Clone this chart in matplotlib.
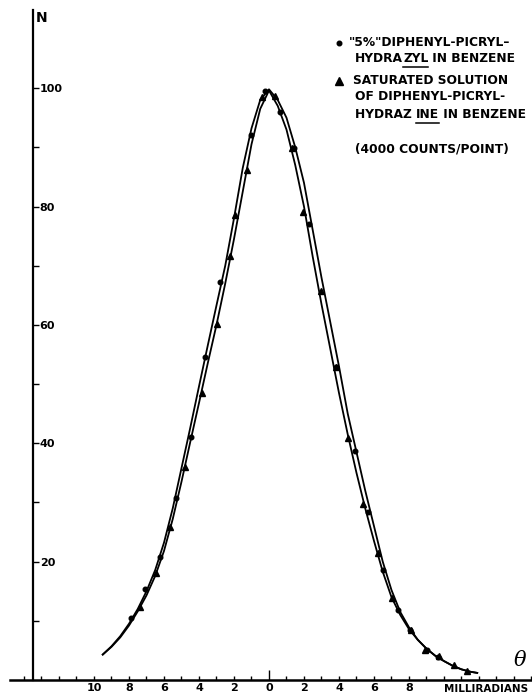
import matplotlib
matplotlib.use("Agg")
import matplotlib.pyplot as plt
from matplotlib.lines import Line2D
from matplotlib.ticker import MultipleLocator, FixedLocator

# curve through the hydrazyl (dot) points - slightly the wider one
dot_curve_theta = [-9.5, -9.0, -8.5, -8.0, -7.5, -7.0, -6.5, -6.0, -5.5, -5.0, -4.5, -4.0,
                   -3.5, -3.0, -2.5, -2.0, -1.5, -1.0, -0.5, 0.0, 0.5, 1.0, 1.5, 2.0, 2.5,
                   3.0, 3.5, 4.0, 4.5, 5.0, 5.5, 6.0, 6.5, 7.0, 7.5, 8.0, 8.5, 9.0, 9.5,
                   10.0, 10.5, 11.0, 11.5, 11.9]
dot_curve_n = [4.3, 5.7, 7.4, 9.5, 12.0, 15.0, 18.6, 23.2, 29.0, 35.8, 42.6, 49.6,
               56.5, 63.3, 70.0, 78.0, 86.5, 93.2, 98.0, 99.8, 98.0, 95.0, 90.0, 84.0, 76.0,
               68.0, 60.5, 53.0, 45.0, 38.5, 32.0, 26.0, 20.0, 15.2, 11.5, 8.9, 6.8, 5.3, 4.1,
               3.2, 2.4, 1.8, 1.4, 1.2]

# curve through the hydrazine (triangle) points
tri_curve_theta = [-9.5, -9.0, -8.5, -8.0, -7.5, -7.0, -6.5, -6.0, -5.5, -5.0, -4.5, -4.0,
                   -3.5, -3.0, -2.5, -2.0, -1.5, -1.0, -0.5, 0.0, 0.5, 1.0, 1.5, 2.0, 2.5,
                   3.0, 3.5, 4.0, 4.5, 5.0, 5.5, 6.0, 6.5, 7.0, 7.5, 8.0, 8.5, 9.0, 9.5,
                   10.0, 10.5, 11.0, 11.5, 11.9]
tri_curve_n = [4.3, 5.6, 7.2, 9.2, 11.6, 14.3, 17.6, 21.8, 27.2, 33.5, 40.2, 46.8,
               53.5, 60.0, 67.0, 74.5, 82.5, 90.5, 96.5, 99.6, 97.0, 93.0, 87.0, 80.0, 71.5,
               63.5, 56.0, 48.5, 41.5, 35.0, 29.0, 23.5, 18.3, 14.0, 11.0, 8.6, 6.8, 5.3, 4.1,
               3.2, 2.4, 1.8, 1.4, 1.2]

dots_theta = [-7.89, -7.09, -6.23, -5.31, -4.46, -3.66, -2.8, -1.03, -0.23, 0.63, 1.43,
              2.29, 3.83, 4.91, 5.66, 6.51, 7.37, 8.06, 9.03, 9.66]
dots_n = [10.5, 15.4, 20.8, 30.7, 41.0, 54.6, 67.2, 92.0, 99.5, 96.0, 89.9,
          77.0, 52.9, 38.7, 28.4, 18.6, 11.8, 8.4, 5.1, 3.9]

tri_theta = [-7.37, -6.46, -5.66, -4.8, -3.83, -2.97, -2.23, -1.94, -1.26, -0.4, 0.34,
             1.31, 1.94, 2.97, 3.83, 4.51, 5.37, 6.23, 7.03, 8.11, 8.91, 9.71, 10.57, 11.31]
tri_n = [12.3, 18.0, 25.8, 36.0, 48.5, 60.1, 71.6, 78.5, 86.1, 98.5, 98.6,
         89.9, 79.0, 65.7, 52.9, 40.9, 29.7, 21.4, 13.9, 8.4, 5.1, 4.0, 2.5, 1.6]

xtick_pos = [-10, -8, -6, -4, -2, 0, 2, 4, 6, 8]
xtick_lab = ["10", "8", "6", "4", "2", "0", "2", "4", "6", "8"]
ytick_pos = [20, 40, 60, 80, 100]
ytick_minor = [10, 30, 50, 70, 90]

W, H = 532, 696
fig = plt.figure(figsize=(W / 100, H / 100), dpi=100)
ax = fig.add_axes([10 / W, 16 / H, 522 / W, 670 / H])

ax.plot(dot_curve_theta, dot_curve_n, color="black", lw=1.3)
ax.plot(tri_curve_theta, tri_curve_n, color="black", lw=1.3)
ax.plot(dots_theta, dots_n, "o", color="black", ms=3.3, ls="none")
ax.plot(tri_theta, tri_n, "^", color="black", ms=5, ls="none")

ax.set_xlim(-14.8, 15.03)
ax.set_ylim(0, 113.2)

for s in ["top", "right"]:
    ax.spines[s].set_visible(False)
ax.spines["left"].set_position(("data", -13.5))
ax.spines["left"].set_linewidth(1.6)
ax.spines["bottom"].set_linewidth(1.8)

lab_font = dict(family="DejaVu Sans", weight="bold", size=8)

ax.set_xticks(xtick_pos)
ax.set_xticklabels(xtick_lab, **lab_font)
ax.xaxis.set_minor_locator(MultipleLocator(1))
ax.tick_params(axis="x", which="both", direction="in", length=3, width=1, pad=2)
ax.xaxis.get_major_ticks()[5].tick1line.set_markersize(7)

ax.set_yticks(ytick_pos)
ax.set_yticklabels([str(v) for v in ytick_pos], **lab_font)
ax.yaxis.set_minor_locator(FixedLocator(ytick_minor))
ax.tick_params(axis="y", which="both", direction="in", length=4, width=1, pad=-5)
for t in ax.get_yticklabels():
    t.set_ha("left")

ax.text(-13.3, 111.8, "N", fontsize=10, fontweight="bold", family="DejaVu Sans",
        ha="left", va="center")
fig.text(520 / W, 1 - 660 / H, "θ", fontsize=15, style="italic", family="DejaVu Serif",
         ha="center", va="center")
fig.text(486 / W, 1 - 689 / H, "MILLIRADIANS", fontsize=7.5, fontweight="bold",
         family="DejaVu Sans", ha="center", va="center")

# legend block, written piece by piece so parts can be underlined
renderer = fig.canvas.get_renderer()
leg_font = dict(fontsize=8.8, fontweight="bold", family="DejaVu Sans", va="center", ha="left")


def write_parts(x, y, parts):
    for s, ul in parts:
        t = fig.text(x / W, 1 - y / H, s, **leg_font)
        bb = t.get_window_extent(renderer)
        if ul:
            yl = bb.y0 - 1.0
            fig.add_artist(Line2D([bb.x0 / W, bb.x1 / W], [yl / H, yl / H],
                                  color="black", lw=1.1, transform=fig.transFigure))
        x = bb.x1


fig.add_artist(Line2D([339 / W], [1 - 43 / H], marker="o", ms=3.3, color="black",
                      transform=fig.transFigure))
fig.add_artist(Line2D([339 / W], [1 - 81 / H], marker="^", ms=5.5, color="black",
                      transform=fig.transFigure))
write_parts(349, 43, [('"5%"DIPHENYL-PICRYL–', False)])
write_parts(355, 59, [("HYDRA", False), ("ZYL", True), (" IN BENZENE", False)])
write_parts(353, 81, [("SATURATED SOLUTION", False)])
write_parts(355, 97, [("OF DIPHENYL-PICRYL-", False)])
write_parts(355, 115, [("HYDRAZ ", False), ("INE", True), (" IN BENZENE", False)])
write_parts(355, 149, [("(4000 COUNTS/POINT)", False)])

fig.savefig("out.png", dpi=100, facecolor="white")
